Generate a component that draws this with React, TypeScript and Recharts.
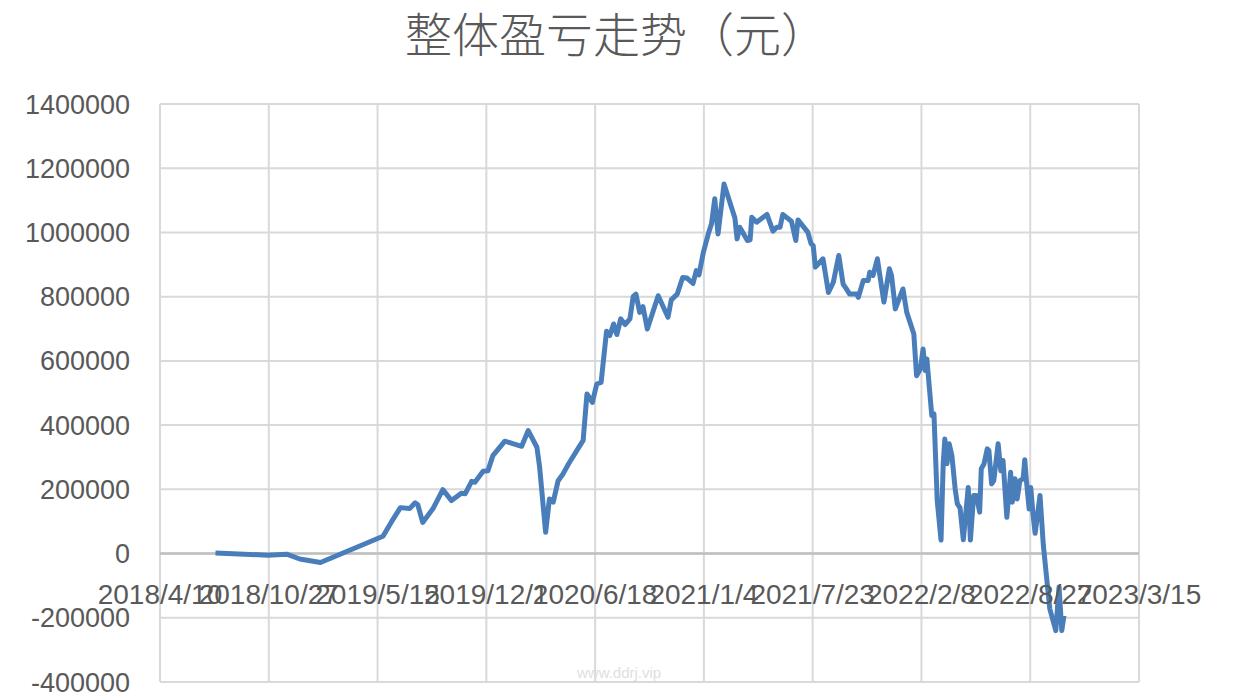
import React from 'react';
import { LineChart, Line, XAxis, YAxis, CartesianGrid, ReferenceLine } from 'recharts';

const title = '整体盈亏走势（元）';
const watermark = 'www.ddrj.vip';

const xTickLabels = [
  '2018/4/10', '2018/10/27', '2019/5/15', '2019/12/1', '2020/6/18',
  '2021/1/4', '2021/7/23', '2022/2/8', '2022/8/27', '2023/3/15',
];
const yTicks = [-400000, -200000, 0, 200000, 400000, 600000, 800000, 1000000, 1200000, 1400000];

const dates = [
  '2018/7/21', '2018/10/25', '2018/11/29', '2018/12/23', '2019/1/30', '2019/5/25', '2019/6/10', '2019/6/26',
  '2019/7/13', '2019/7/23', '2019/7/28', '2019/8/6', '2019/8/25', '2019/9/12', '2019/9/28', '2019/10/16',
  '2019/10/23', '2019/11/4', '2019/11/10', '2019/11/25', '2019/12/4', '2019/12/13', '2020/1/4', '2020/2/4',
  '2020/2/16', '2020/3/3', '2020/3/8', '2020/3/19', '2020/3/26', '2020/4/2', '2020/4/11', '2020/4/20',
  '2020/4/30', '2020/5/21', '2020/5/27', '2020/6/3', '2020/6/13', '2020/6/21', '2020/6/29', '2020/7/9',
  '2020/7/15', '2020/7/22', '2020/7/28', '2020/8/4', '2020/8/12', '2020/8/21', '2020/8/27', '2020/9/1',
  '2020/9/8', '2020/9/14', '2020/9/22', '2020/10/12', '2020/10/30', '2020/11/5', '2020/11/16', '2020/11/26',
  '2020/12/4', '2020/12/15', '2020/12/21', '2020/12/26', '2021/1/3', '2021/1/12', '2021/1/18', '2021/1/24',
  '2021/1/30', '2021/2/10', '2021/3/2', '2021/3/6', '2021/3/11', '2021/3/25', '2021/3/30', '2021/4/2',
  '2021/4/11', '2021/4/30', '2021/5/11', '2021/5/18', '2021/5/24', '2021/5/29', '2021/6/14', '2021/6/22',
  '2021/6/26', '2021/7/14', '2021/7/20', '2021/7/24', '2021/7/28', '2021/8/11', '2021/8/21', '2021/8/30',
  '2021/9/9', '2021/9/17', '2021/9/23', '2021/9/29', '2021/10/12', '2021/10/15', '2021/10/24', '2021/11/2',
  '2021/11/5', '2021/11/11', '2021/11/19', '2021/12/1', '2021/12/11', '2021/12/15', '2021/12/22', '2022/1/5',
  '2022/1/12', '2022/1/25', '2022/1/30', '2022/2/6', '2022/2/11', '2022/2/15', '2022/2/18', '2022/2/27',
  '2022/3/3', '2022/3/9', '2022/3/16', '2022/3/20', '2022/3/23', '2022/3/27', '2022/3/31', '2022/4/5',
  '2022/4/11', '2022/4/15', '2022/4/20', '2022/4/26', '2022/5/5', '2022/5/9', '2022/5/15', '2022/5/20',
  '2022/5/26', '2022/5/29', '2022/6/3', '2022/6/9', '2022/6/12', '2022/6/17', '2022/6/21', '2022/6/29',
  '2022/7/4', '2022/7/8', '2022/7/15', '2022/7/22', '2022/7/25', '2022/7/30', '2022/8/3', '2022/8/8',
  '2022/8/14', '2022/8/17', '2022/8/20', '2022/8/25', '2022/8/28', '2022/9/1', '2022/9/5', '2022/9/14',
  '2022/9/20', '2022/9/26', '2022/10/2', '2022/10/13', '2022/10/19', '2022/10/24', '2022/10/28',
];

const profit = [
  2000, -5000, -2000, -17000, -28000, 54000, 100000, 143000,
  140000, 158000, 152000, 97000, 140000, 199000, 165000, 188000,
  186000, 225000, 222000, 256000, 258000, 305000, 350000, 334000,
  383000, 331000, 269000, 66000, 170000, 160000, 227000, 248000,
  279000, 336000, 352000, 497000, 471000, 528000, 533000, 692000,
  679000, 715000, 682000, 731000, 713000, 731000, 800000, 808000,
  751000, 769000, 699000, 803000, 736000, 790000, 808000, 860000,
  858000, 841000, 881000, 868000, 938000, 995000, 1027000, 1105000,
  995000, 1151000, 1045000, 980000, 1016000, 975000, 977000, 1047000,
  1032000, 1056000, 1004000, 1016000, 1016000, 1056000, 1035000, 975000,
  1039000, 1001000, 965000, 959000, 892000, 918000, 813000, 845000,
  928000, 839000, 824000, 808000, 808000, 798000, 850000, 850000,
  876000, 866000, 918000, 783000, 887000, 866000, 762000, 824000,
  751000, 684000, 554000, 575000, 637000, 570000, 606000, 430000,
  435000, 165000, 42000, 279000, 357000, 280000, 342000, 305000,
  201000, 155000, 142000, 43000, 206000, 42000, 181000, 181000,
  129000, 264000, 279000, 326000, 321000, 217000, 227000, 342000,
  258000, 290000, 113000, 253000, 160000, 233000, 170000, 227000,
  233000, 292000, 227000, 139000, 206000, 124000, 63000, 181000,
  28000, -73000, -172000, -240000, -104000, -240000, -193000,
];

const ORIGIN = Date.UTC(2018, 3, 10);
const toDay = (s: string) => {
  const [y, m, d] = s.split('/').map(Number);
  return Math.round((Date.UTC(y, m - 1, d) - ORIGIN) / 86400000);
};

const xTicks = xTickLabels.map(toDay);
const labelFor: Record<number, string> = {};
xTickLabels.forEach((l, i) => { labelFor[xTicks[i]] = l; });

const data = dates.map((d, i) => ({ day: toDay(d), value: profit[i] }));

const W = 1243;
const H = 694;
const X_AXIS_H = 12;
const M = { top: 104, right: 104, bottom: 0, left: 0 };
const Y_AXIS_W = 160;
const PLOT_H = H - M.top - M.bottom - X_AXIS_H;
const Y_MIN = yTicks[0];
const Y_MAX = yTicks[yTicks.length - 1];
const ZERO_FROM_BOTTOM = PLOT_H * (0 - Y_MIN) / (Y_MAX - Y_MIN);

const TEXT = '#595959';
const FONT = '"Liberation Sans", Arial, sans-serif';

const renderXTick = (props: any) => {
  const { x, y, payload } = props;
  const axisTop = y - (props.tickSize ?? 0) - (props.tickMargin ?? 0);
  return (
    <text
      key={`xt-${payload.value}`}
      x={x}
      y={axisTop - ZERO_FROM_BOTTOM + 50}
      textAnchor="middle"
      fill={TEXT}
      fontSize={28}
      fontFamily={FONT}
    >
      {labelFor[payload.value] ?? ''}
    </text>
  );
};

export default function App() {
  return (
    <div style={{ position: 'absolute', left: 0, top: 0, width: W, height: H, background: '#fff' }}>
      <div
        style={{
          position: 'absolute', left: 0, width: W - 10, top: 3, textAlign: 'center',
          fontFamily: '"Noto Sans CJK SC", sans-serif', fontWeight: 300, fontSize: 47,
          color: TEXT, lineHeight: '58px',
        }}
      >
        {title}
      </div>
      <LineChart width={W} height={H} data={data} margin={M}>
        <CartesianGrid stroke="#d9d9d9" strokeWidth={2} />
        <XAxis
          dataKey="day"
          type="number"
          domain={[xTicks[0], xTicks[xTicks.length - 1]]}
          ticks={xTicks}
          interval={0}
          axisLine={false}
          tickLine={false}
          tickSize={0}
          tickMargin={0}
          height={X_AXIS_H}
          tick={renderXTick}
        />
        <YAxis
          type="number"
          domain={[Y_MIN, Y_MAX]}
          ticks={yTicks}
          interval={0}
          width={Y_AXIS_W}
          axisLine={false}
          tickLine={false}
          tickSize={0}
          tickMargin={30}
          tick={{ fill: TEXT, fontSize: 27, fontFamily: FONT }}
        />
        <ReferenceLine y={0} stroke="#bfbfbf" strokeWidth={2.5} />
        <Line
          type="linear"
          dataKey="value"
          stroke="#4a7ebb"
          strokeWidth={5}
          dot={false}
          isAnimationActive={false}
          strokeLinejoin="round"
        />
      </LineChart>
      <div
        style={{
          position: 'absolute', left: 577, top: 664, fontSize: 15, color: '#e0e0e0',
          fontFamily: FONT,
        }}
      >
        {watermark}
      </div>
    </div>
  );
}
